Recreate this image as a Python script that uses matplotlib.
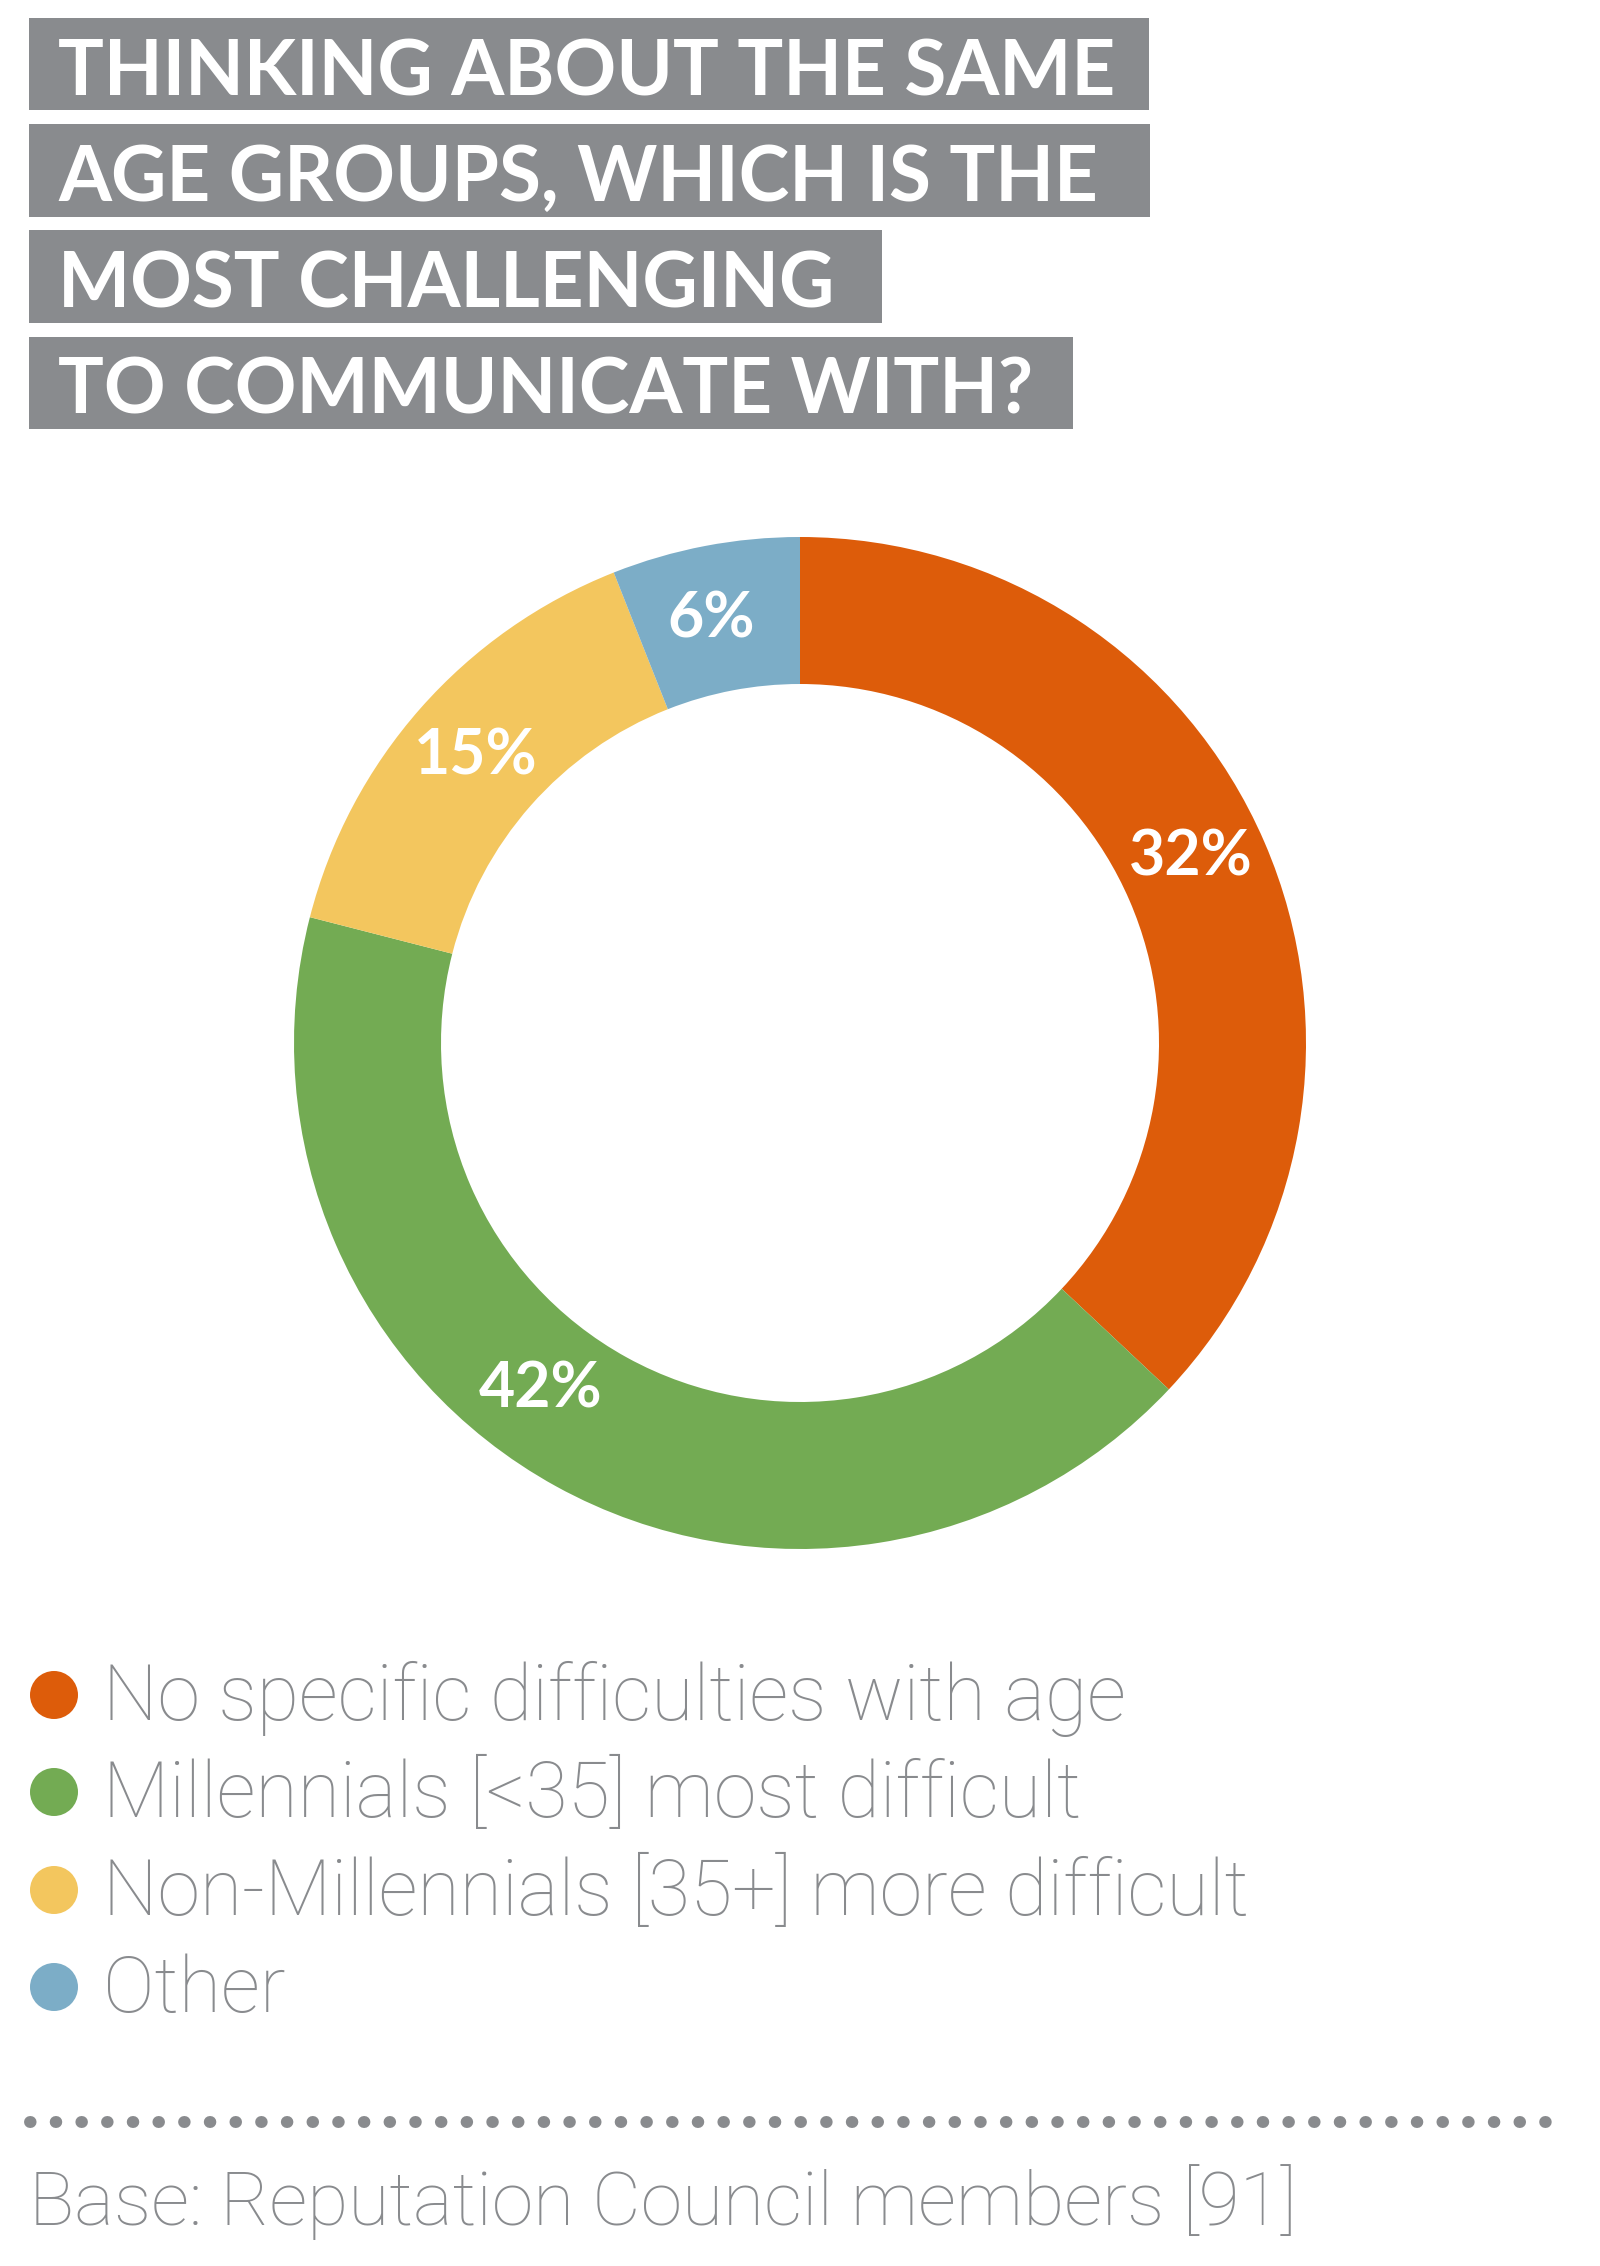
import matplotlib
matplotlib.use("Agg")
import matplotlib.pyplot as plt
from matplotlib.patches import Rectangle, Circle
import numpy as np

# data
title_lines = ["THINKING ABOUT THE SAME", "AGE GROUPS, WHICH IS THE",
               "MOST CHALLENGING", "TO COMMUNICATE WITH?"]
categories = ["No specific difficulties with age",
              "Millennials [<35] most difficult",
              "Non-Millennials [35+] more difficult",
              "Other"]
shares = [37, 42, 15, 6]
pct_labels = ["32%", "42%", "15%", "6%"]
colors = ["#DD5C0A", "#73AB53", "#F3C65E", "#7CADC7"]
base_note = "Base: Reputation Council members [91]"

GRAY_BOX = "#898B8E"
GRAY_TXT = "#898B8E"
W, H = 1600, 2266
CX, CY, R_OUT, R_IN = 800, 1043, 506, 359

fig = plt.figure(figsize=(W / 100, H / 100), dpi=100)
ax = fig.add_axes([0, 0, 1, 1])


def py(y):
    # pixel row from top -> data y
    return H - y


# donut
wedges, _ = ax.pie(shares, colors=colors, startangle=90, counterclock=False,
                   center=(CX, py(CY)), radius=R_OUT,
                   wedgeprops=dict(width=R_OUT - R_IN, linewidth=0))
r_lab = (R_OUT + R_IN) / 2
nudge = [2, -8, 0, 1]  # label angle tweaks, degrees
for w, lab, dn in zip(wedges, pct_labels, nudge):
    ang = np.deg2rad((w.theta1 + w.theta2) / 2 + dn)
    ax.text(CX + r_lab * np.cos(ang), py(CY) + r_lab * np.sin(ang), lab,
            color="white", fontsize=45, fontweight="bold", family="Lato",
            ha="center", va="center")

# title boxes
boxes = [(29, 18, 1149, 110), (29, 124, 1150, 217),
         (29, 230, 882, 323), (29, 337, 1073, 429)]
baselines = [95, 201, 307, 413]
for (x0, y0, x1, y1), line, bl in zip(boxes, title_lines, baselines):
    ax.add_patch(Rectangle((x0, py(y1)), x1 - x0, y1 - y0, fc=GRAY_BOX, ec="none"))
    ax.text(58, py(bl), line, color="white", fontsize=55, fontweight="bold",
            family="Lato", ha="left", va="baseline")

# legend
leg_y = [1695, 1792, 1890, 1987]
for cat, col, yy in zip(categories, colors, leg_y):
    ax.add_patch(Circle((54, py(yy)), 24, fc=col, ec="none"))
    ax.text(103, py(yy + 25), cat, color=GRAY_TXT, fontsize=55.5,
            fontweight="light", family="Roboto", ha="left", va="baseline")

# dotted rule
ax.plot([30, 1566], [py(2122), py(2122)], color=GRAY_TXT, lw=8.6,
        linestyle=(0, (0.05, 2.1)), dash_capstyle="round")

ax.text(29, py(2225), base_note, color=GRAY_TXT, fontsize=54,
        fontweight="light", family="Roboto", ha="left", va="baseline")

ax.set_xlim(0, W)
ax.set_ylim(0, H)
ax.set_aspect("equal")
ax.axis("off")
fig.savefig("out.png", dpi=100, facecolor="white")
